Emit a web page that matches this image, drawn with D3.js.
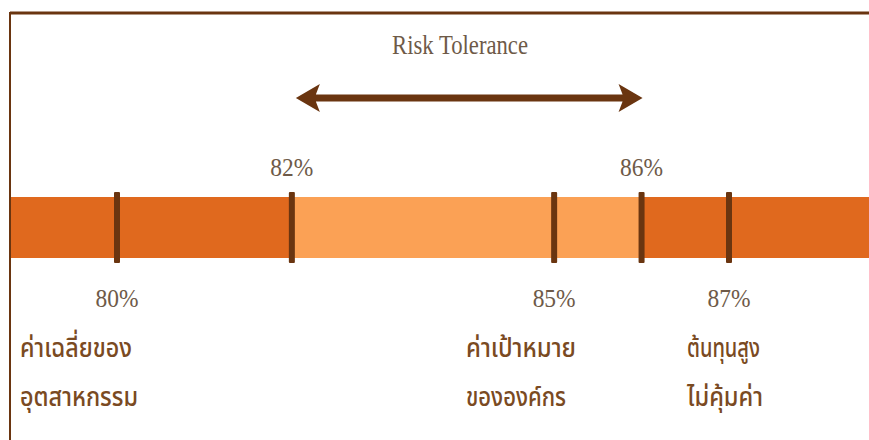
<!DOCTYPE html>
<html><head><meta charset="utf-8">
<script src="https://cdn.jsdelivr.net/npm/d3@7"></script>
<style>html,body{margin:0;padding:0;background:#fff;}svg{display:block;}</style>
</head><body>
<svg id="c" width="869" height="440"></svg>
<script>
// ---- data ----
const title = "Risk Tolerance";
const tickValues = [80, 82, 85, 86, 87];
const labelsAbove = [82, 86];
const labelsBelow = [80, 85, 87];
const toleranceRange = [82, 86];
const categoryValues = [80, 85, 87];
const categoryLines = [
  ["ค่าเฉลี่ยของ", "อุตสาหกรรม"],
  ["ค่าเป้าหมาย", "ขององค์กร"],
  ["ต้นทุนสูง", "ไม่คุ้มค่า"]
];

// ---- layout ----
const W = 869, H = 440;
const svg = d3.select("#c");
const x = d3.scaleLinear().domain([80, 87]).range([117, 729]);
const bandTop = 197, bandBot = 258;
const frameL = 10;
const dark = "#E0691E", light = "#FBA155", brown = "#6A3510", textC = "#6E5A48", thaiC = "#7A4A22";

// frame
svg.append("line").attr("x1", frameL).attr("x2", W).attr("y1", 13).attr("y2", 13)
  .attr("stroke", brown).attr("stroke-width", 3);
svg.append("line").attr("x1", frameL).attr("x2", frameL).attr("y1", 12).attr("y2", H)
  .attr("stroke", brown).attr("stroke-width", 2);

// band zones
const zones = [
  {x0: frameL + 1, x1: x(toleranceRange[0]), c: dark},
  {x0: x(toleranceRange[0]), x1: x(toleranceRange[1]), c: light},
  {x0: x(toleranceRange[1]), x1: W, c: dark}
];
svg.selectAll("rect.zone").data(zones).join("rect").attr("class", "zone")
  .attr("x", d => d.x0).attr("width", d => d.x1 - d.x0)
  .attr("y", bandTop).attr("height", bandBot - bandTop).attr("fill", d => d.c);

// ticks
svg.selectAll("rect.tick").data(tickValues).join("rect").attr("class", "tick")
  .attr("x", d => x(d) - 3).attr("width", 6)
  .attr("y", bandTop - 5).attr("height", bandBot - bandTop + 10)
  .attr("rx", 1).attr("fill", brown);

// percent labels
const pctFont = "'Liberation Serif', 'DejaVu Serif', serif";
svg.selectAll("text.above").data(labelsAbove).join("text").attr("class", "above")
  .attr("x", d => x(d)).attr("y", 176).attr("text-anchor", "middle")
  .attr("font-family", pctFont).attr("font-size", 26).attr("fill", textC)
  .attr("textLength", 43).attr("lengthAdjust", "spacingAndGlyphs")
  .text(d => d + "%");
svg.selectAll("text.below").data(labelsBelow).join("text").attr("class", "below")
  .attr("x", d => x(d)).attr("y", 307).attr("text-anchor", "middle")
  .attr("font-family", pctFont).attr("font-size", 26).attr("fill", textC)
  .attr("textLength", 43).attr("lengthAdjust", "spacingAndGlyphs")
  .text(d => d + "%");

// title + arrow
svg.append("text").attr("x", 460).attr("y", 54)
  .attr("text-anchor", "middle").attr("font-family", pctFont).attr("font-size", 28)
  .attr("fill", textC).attr("textLength", 136).attr("lengthAdjust", "spacingAndGlyphs")
  .text(title);

const ax0 = x(toleranceRange[0]) + 4, ax1 = x(toleranceRange[1]) + 1, ay = 98;
const headL = 24, headH = 14, shaft = 3.5;
svg.append("path").attr("fill", brown).attr("d",
  `M${ax0},${ay} L${ax0 + headL},${ay - headH} L${ax0 + headL - 4},${ay - shaft}
   L${ax1 - headL + 4},${ay - shaft} L${ax1 - headL},${ay - headH} L${ax1},${ay}
   L${ax1 - headL},${ay + headH} L${ax1 - headL + 4},${ay + shaft}
   L${ax0 + headL - 4},${ay + shaft} L${ax0 + headL},${ay + headH} Z`);

// Thai category labels
const thaiFont = "'Noto Sans Thai', 'Noto Sans Thai UI', 'Loma', 'Garuda', 'Noto Sans', sans-serif";
const catX = [20, 466, 687];
const widths = [[112, 118], [110, 100], [73, 76]];
categoryValues.forEach((v, i) => {
  categoryLines[i].forEach((line, j) => {
    svg.append("text").attr("x", catX[i]).attr("y", 357 + j * 49)
      .attr("font-family", thaiFont).attr("font-size", 27).attr("font-weight", 500)
      .attr("fill", thaiC)
      .attr("textLength", widths[i][j]).attr("lengthAdjust", "spacingAndGlyphs")
      .text(line);
  });
});
</script>
</body></html>
